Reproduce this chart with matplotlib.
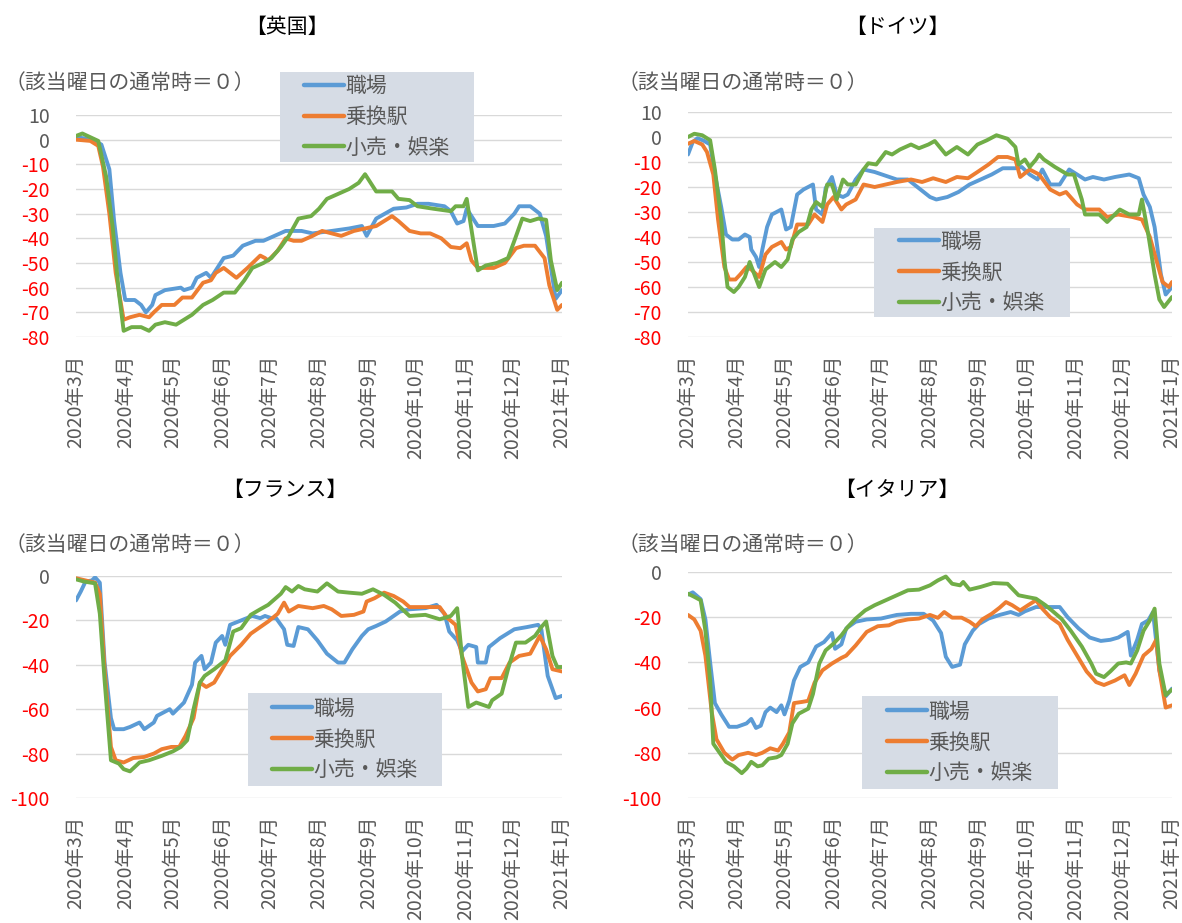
import numpy as np
import pandas as pd
import matplotlib
matplotlib.use("Agg")
import matplotlib.pyplot as plt
from matplotlib.patches import Rectangle

plt.rcParams['font.family'] = ['Noto Sans CJK JP', 'DejaVu Sans']

# days since 2020-03-01 and values (change vs. usual, %)
uk_work_day = [0, 11, 16, 21, 24, 28, 31, 37, 41, 44, 48, 50, 56, 66, 68, 73, 76, 82, 85, 89, 93, 99, 105, 113, 118, 125, 132, 142, 149, 161, 172, 180, 183, 189, 200, 208, 215, 222, 232, 236, 240, 244, 246, 253, 263, 270, 276, 279, 286, 292, 296, 302, 306]
uk_work_val = [1, 0, -2, -12, -33, -54, -65, -65, -67, -70, -67, -63, -61, -60, -61, -60, -56, -54, -56, -52, -48, -47, -43, -41, -41, -39, -37, -37, -38, -37, -36, -35, -39, -32, -28, -27.5, -26, -26, -27, -29, -34, -33, -28, -35, -35, -34, -30, -27, -27, -30, -39, -64.5, -61]
uk_station_day = [0, 9, 14, 17, 21, 25, 30, 34, 40, 46, 49, 54, 57, 62, 67, 73, 80, 85, 88, 93, 97, 101, 108, 116, 119, 121, 127, 132, 137, 142, 149, 155, 161, 167, 175, 182, 189, 199, 203, 210, 217, 223, 230, 236, 242, 246, 249, 253, 263, 270, 277, 282, 289, 295, 298, 303, 306]
uk_station_val = [0, -0.5, -2.5, -11, -30, -54, -73, -72, -71, -72, -70, -67, -67, -67, -64, -64, -58, -57, -54, -52, -54, -56, -52, -47, -48, -49, -45, -40, -41, -41, -39, -37, -38, -39, -37, -36, -35, -31, -33, -37, -38, -38, -40, -43.5, -44, -42, -49, -52, -52, -50, -44, -43, -43, -48, -59, -69, -67]
uk_retail_day = [0, 4, 9, 14, 19, 23, 27, 30, 35, 41, 46, 50, 56, 63, 68, 73, 80, 86, 93, 100, 106, 111, 118, 123, 129, 134, 140, 148, 153, 158, 165, 172, 178, 182, 185, 189, 199, 203, 210, 215, 225, 236, 239, 244, 246, 253, 258, 265, 272, 276, 281, 286, 291, 296, 299, 303, 306]
uk_retail_val = [1.5, 2.5, 1, -0.5, -15, -35, -62, -77.5, -76, -76, -77.5, -75, -74, -75, -73, -71, -67, -65, -62, -62, -57, -52, -50, -48, -43.5, -39, -32, -31, -28, -24, -22, -20, -17.5, -14, -17, -21, -21, -24, -24.5, -27, -28, -29, -27, -27, -24, -53, -51, -50, -48, -41, -32, -33, -32, -32.5, -49, -61, -58]

de_work_day = [0, 3, 6, 10, 14, 17, 21, 24, 28, 32, 36, 39, 40, 43, 45, 47, 50, 53, 59, 62, 65, 69, 73, 79, 81, 85, 87, 91, 94, 98, 101, 106, 111, 118, 125, 132, 139, 146, 153, 157, 164, 171, 178, 185, 192, 199, 207, 211, 216, 221, 224, 229, 235, 239, 241, 246, 251, 256, 263, 270, 279, 285, 288, 292, 295, 299, 302, 306]
de_work_val = [-7, -2, -0.5, -1.5, -3, -15, -28, -39, -41, -41, -39, -40, -45, -48, -52, -45, -36, -31, -29, -37, -36, -23, -21, -19, -29, -31, -20.5, -16, -23, -24, -23, -17, -13, -14, -15.5, -17, -17, -20.5, -24, -25, -24, -22, -19, -17, -15, -12.5, -12.5, -12, -15, -17, -13, -19, -19, -15, -13, -15, -17, -16, -17, -16, -15, -16.5, -23, -28, -36, -55, -63, -60]
de_station_day = [0, 4, 9, 12, 16, 19, 23, 26, 30, 33, 37, 40, 45, 49, 53, 59, 62, 65, 69, 76, 80, 85, 88, 92, 97, 100, 106, 111, 118, 125, 132, 141, 148, 155, 163, 170, 177, 183, 190, 196, 202, 207, 210, 216, 222, 229, 235, 239, 246, 251, 260, 265, 272, 281, 287, 292, 296, 300, 304, 306]
de_station_val = [-2.7, -1.6, -3, -6, -15, -33, -52, -57, -57, -55, -52, -53, -56, -47, -44, -42, -45, -44, -35, -35, -31, -34, -27, -24, -29, -27, -25, -19, -20, -19, -18, -17, -18, -16.5, -18, -16, -16.5, -14, -11, -8, -8, -9, -16, -13, -15, -21, -23, -22, -27, -29, -29, -32, -31, -32, -33, -40, -49, -58, -60, -58]
de_retail_day = [0, 4, 9, 14, 17, 21, 23, 25, 29, 32, 36, 39, 42, 45, 49, 55, 59, 63, 66, 70, 75, 78, 81, 85, 88, 91, 94, 98, 101, 106, 111, 114, 119, 125, 129, 134, 141, 146, 152, 156, 163, 170, 177, 183, 189, 195, 202, 207, 209, 213, 216, 220, 222, 225, 232, 240, 244, 249, 251, 260, 265, 273, 279, 285, 287, 291, 295, 298, 301, 306]
de_retail_val = [0, 1.3, 0.7, -1.3, -13, -33, -49, -60, -62, -60, -56, -50, -55, -60, -53, -50, -52, -49, -41, -38, -36, -29, -26, -28, -19, -19, -25, -17, -19, -19, -13, -10.5, -11, -6, -7, -5, -3, -4.5, -3, -1.6, -7, -4, -7, -3, -1.3, 0.7, -0.7, -4, -11, -9, -12, -9, -7, -9, -12, -15, -15, -25, -31, -31, -34, -29, -31, -31, -25, -39, -55, -65, -68, -64]

fr_work_day = [0, 3, 6, 10, 12, 15, 18, 22, 24, 30, 34, 40, 43, 49, 51, 59, 61, 68, 73, 75, 79, 81, 85, 88, 92, 94, 97, 104, 111, 116, 119, 123, 126, 131, 133, 137, 140, 146, 152, 158, 165, 169, 174, 180, 184, 189, 195, 200, 204, 210, 220, 227, 232, 235, 240, 243, 247, 252, 253, 258, 260, 267, 276, 284, 291, 293, 297, 302, 306]
fr_work_val = [-11, -7, -2.5, -2, -0.6, -3, -39, -64, -69, -69, -68, -66, -69, -66, -63, -60, -62, -57, -49, -39, -36, -42, -39, -30, -27, -31, -22, -20, -18, -19, -18, -19, -19, -24, -31, -31.5, -23, -24, -29, -35, -39, -39, -33, -27, -24, -22.5, -20.5, -18, -16, -15, -14.5, -13, -17, -25, -29, -34, -31, -32, -39, -39, -32, -28, -24, -23, -22, -24, -45, -55, -54]
fr_station_day = [0, 6, 12, 15, 18, 22, 25, 30, 36, 43, 49, 54, 60, 65, 69, 74, 78, 82, 87, 92, 97, 104, 110, 116, 121, 127, 131, 134, 140, 149, 156, 161, 167, 175, 181, 183, 188, 194, 200, 206, 210, 220, 229, 234, 239, 243, 249, 253, 258, 261, 268, 273, 279, 286, 292, 296, 300, 306]
fr_station_val = [-1, -2, -3, -8, -42, -77, -83, -84, -82, -81.5, -80, -78, -77, -77, -72, -64, -48, -50, -48, -42, -36, -31, -26, -23, -20.5, -17, -12, -16, -13.5, -14.5, -13.5, -15, -18, -17.5, -16, -11.5, -10, -7.5, -9, -11.5, -14, -14, -14, -19, -22, -36, -48, -52, -51, -46, -46, -39, -36, -35, -27, -33, -42, -43]
fr_retail_day = [0, 5, 12, 15, 18, 22, 27, 30, 34, 40, 46, 54, 61, 66, 70, 74, 78, 81, 87, 94, 99, 104, 110, 116, 121, 129, 132, 136, 140, 144, 152, 158, 165, 172, 180, 187, 194, 201, 210, 220, 229, 236, 240, 243, 247, 252, 260, 262, 268, 272, 277, 283, 289, 293, 296, 300, 303, 306]
fr_retail_val = [-1.5, -2.5, -3.3, -17, -47, -83, -84.5, -87, -88, -84, -83, -81, -79, -77, -74, -60, -48, -45, -42, -38, -25, -23.5, -17.5, -15, -13, -8, -5, -7, -4.5, -6, -7, -3.3, -7, -7.5, -8, -6, -8.5, -12, -18, -17.5, -19.5, -18, -14.5, -36, -59, -57, -59, -56, -53, -42, -30, -30, -27, -23, -20.5, -36, -41, -41]

it_work_day = [0, 3, 8, 11, 14, 17, 21, 26, 31, 37, 40, 43, 46, 49, 52, 56, 59, 61, 64, 67, 71, 76, 81, 86, 91, 93, 97, 100, 106, 113, 122, 132, 141, 149, 155, 160, 163, 167, 172, 175, 180, 184, 190, 197, 204, 209, 213, 220, 228, 235, 240, 247, 254, 261, 267, 272, 278, 280, 284, 287, 291, 294, 298, 302, 306]
it_work_val = [-10, -9, -12, -21, -40, -58, -63, -68.5, -68.5, -67, -65, -69, -68, -62, -60, -62, -59, -63, -57, -48, -42, -40, -33, -31, -27, -34, -32, -25, -22, -21, -20.6, -19, -18.5, -18.5, -21.5, -27, -37.5, -42, -41, -32, -26, -23, -20.6, -19, -17.7, -19, -17.4, -15.5, -15.5, -15.5, -20, -25, -29, -30.5, -30, -29, -26.5, -37, -30, -23, -21.4, -17.7, -43.5, -55, -51.6]
it_station_day = [0, 4, 8, 11, 15, 18, 23, 28, 32, 38, 43, 47, 52, 57, 60, 64, 67, 72, 76, 80, 85, 91, 97, 100, 106, 113, 120, 127, 132, 139, 146, 153, 158, 162, 167, 173, 178, 182, 186, 192, 197, 201, 205, 210, 215, 220, 224, 229, 235, 240, 246, 252, 258, 263, 270, 276, 279, 283, 288, 293, 296, 298, 302, 306]
it_station_val = [-19, -21, -26, -37, -62, -74, -80, -83, -81, -80, -81, -80, -78, -79, -76, -71, -58, -57.5, -57, -49, -43.5, -40.5, -38, -37, -32.5, -26.5, -24, -23.6, -22, -21, -20.6, -19, -20.3, -17.7, -20.2, -20.2, -22, -24, -21, -18.5, -15.8, -13.3, -14.7, -17, -14.7, -12.5, -16.2, -20, -23, -30, -37, -44, -48.7, -50, -48, -45.7, -50, -45, -37, -34, -30, -43.5, -60, -59]
it_retail_day = [0, 4, 8, 11, 14, 16, 20, 24, 29, 34, 37, 40, 44, 47, 51, 56, 59, 63, 66, 70, 76, 79, 83, 87, 92, 97, 101, 106, 112, 118, 125, 132, 139, 146, 153, 158, 163, 167, 172, 174, 178, 185, 193, 202, 209, 214, 220, 226, 230, 236, 242, 249, 255, 258, 263, 267, 272, 277, 280, 284, 288, 292, 295, 298, 302, 306]
it_retail_val = [-9.6, -11, -12.5, -26, -48, -76, -80, -84, -86, -89, -87, -84, -86, -85.5, -82.6, -82, -81, -76, -67, -62.7, -60.5, -54, -40.5, -34.7, -31.7, -28, -24.3, -20.6, -17, -14.7, -12.5, -10.3, -8.1, -7.8, -5.9, -3.7, -2, -5.2, -5.9, -4.4, -7.8, -6.6, -4.9, -5.2, -10.3, -11, -11.8, -14.7, -17, -20.6, -26, -33, -40.5, -45, -46.5, -44, -40.5, -40, -40.5, -34.7, -26, -21.4, -16.2, -40.5, -54.5, -52]

titles = ['【英国】', '【ドイツ】', '【フランス】', '【イタリア】']
series_names = ['職場', '乗換駅', '小売・娯楽']
colors = ['#5B9BD5', '#ED7D31', '#70AD47']
ylabel_text = '（該当曜日の通常時＝０）'

start = pd.Timestamp('2020-03-01')
month_ticks = pd.date_range('2020-03-01', '2021-01-01', freq='MS')
month_labels = [f'{d.year}年{d.month}月' for d in month_ticks]

panels = [
    (titles[0], [(uk_work_day, uk_work_val), (uk_station_day, uk_station_val), (uk_retail_day, uk_retail_val)], (-80, 10), 10),
    (titles[1], [(de_work_day, de_work_val), (de_station_day, de_station_val), (de_retail_day, de_retail_val)], (-80, 10), 10),
    (titles[2], [(fr_work_day, fr_work_val), (fr_station_day, fr_station_val), (fr_retail_day, fr_retail_val)], (-100, 0), 20),
    (titles[3], [(it_work_day, it_work_val), (it_station_day, it_station_val), (it_retail_day, it_retail_val)], (-100, 0), 20),
]

W, H = 1182, 923
fig = plt.figure(figsize=(W / 100, H / 100), dpi=100)

# pixel layout: plot box (left, top, right, bottom), title pos, ylabel pos, legend box
boxes = [(76, 115, 562, 337), (688, 112, 1172, 337), (76, 576, 562, 798), (688, 572, 1172, 798)]
title_pos = [(287, 27), (897, 27), (285, 490), (897, 490)]
ylab_pos = [(5, 83), (618, 83), (5, 545), (618, 545)]
leg_boxes = [(280, 72, 474, 162), (874, 228, 1070, 317), (248, 693, 442, 786), (862, 696, 1058, 789)]

def fx(px):
    return px / W

def fy(py):
    return 1 - py / H

gray = '#595959'

for i, (title, series, ylim, step) in enumerate(panels):
    l, t, r, b = boxes[i]
    ax = fig.add_axes([fx(l), fy(b), fx(r) - fx(l), fy(t) - fy(b)])
    for (days, vals), name, c in zip(series, series_names, colors):
        dates = start + pd.to_timedelta(days, unit='D')
        ax.plot(dates, vals, color=c, lw=2.8, label=name, solid_capstyle='round', solid_joinstyle='round')
    ax.set_xlim(month_ticks[0], month_ticks[-1])
    ax.set_ylim(*ylim)
    yt = np.arange(ylim[0], ylim[1] + 1, step)
    ax.set_yticks(yt)
    ax.set_yticklabels([str(v) for v in yt])
    for lab, v in zip(ax.get_yticklabels(), yt):
        lab.set_color('#FF0000' if v < 0 else gray)
    ax.set_xticks(month_ticks)
    ax.set_xticklabels(month_labels, rotation=90, color=gray)
    ax.tick_params(axis='y', length=0, pad=19, labelsize=14)
    ax.tick_params(axis='x', length=0, pad=13, labelsize=14)
    ax.grid(axis='y', color='#D9D9D9', lw=1)
    ax.set_axisbelow(True)
    for s in ax.spines.values():
        s.set_visible(False)

    fig.text(fx(title_pos[i][0]), fy(title_pos[i][1]), title, ha='center', va='center', fontsize=15, color='black')
    fig.text(fx(ylab_pos[i][0]), fy(ylab_pos[i][1]), ylabel_text, ha='left', va='center', fontsize=15, color=gray)

    x0, y0, x1, y1 = leg_boxes[i]
    ax.add_patch(Rectangle((fx(x0), fy(y1)), fx(x1) - fx(x0), fy(y0) - fy(y1),
                           transform=fig.transFigure, facecolor='#D6DCE5', edgecolor='none',
                           zorder=4, clip_on=False))
    leg = ax.legend(loc='center', bbox_to_anchor=(fx((x0 + x1) / 2), fy((y0 + y1) / 2)),
                    bbox_transform=fig.transFigure, frameon=False, fontsize=15,
                    handlelength=1.9, handletextpad=0.1, labelspacing=0.42, borderpad=0)
    leg.set_zorder(5)
    for txt in leg.get_texts():
        txt.set_color(gray)
    for h in leg.get_lines():
        h.set_linewidth(3.2)

fig.savefig('out.png', dpi=100)
